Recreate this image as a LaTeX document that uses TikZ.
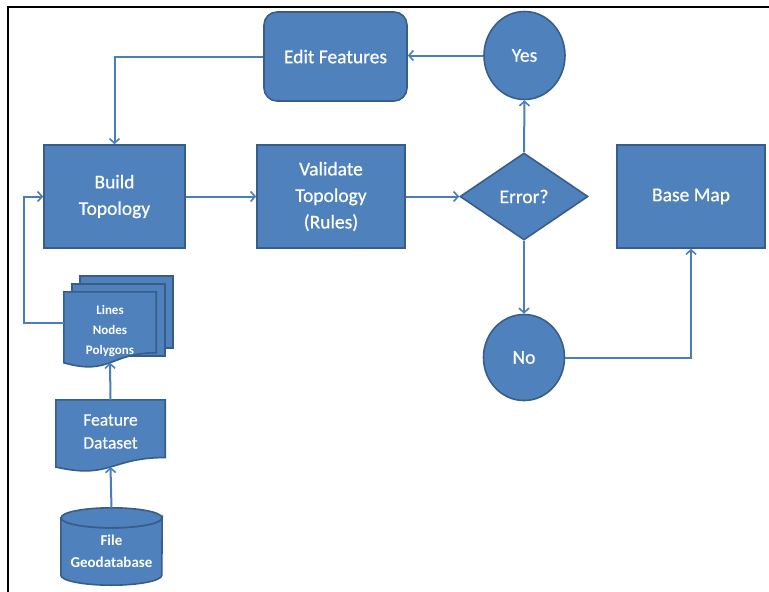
\documentclass[tikz,border=0pt]{standalone}
\usepackage{fontspec}
\setmainfont{Carlito}
\newfontfamily\labelfont[FakeBold=0.6]{Carlito}
\usetikzlibrary{arrows.meta,calc,shapes.geometric,backgrounds}

\definecolor{boxfill}{HTML}{4F81BD}
\definecolor{boxline}{HTML}{385D8A}
\definecolor{linkcol}{HTML}{4A7EBB}

% flowchart "document" outline: flat top, wavy bottom of nominal height #2
\newcommand\docoutline[2]{%
  \path[shapebody] (#1.north west) -- (#1.north east) -- ($(#1.north east)+(0,0.802*#2)$)
    .. controls ($(#1.north)+(0,0.802*#2)$) and ($(#1.north)+(0,1.107*#2)$)
    .. ($(#1.north west)+(0,0.934*#2)$) -- cycle;}

\tikzset{
  shapebody/.style={fill=boxfill, draw=boxline, line width=1.6pt},
  txt/.style={text=white, align=center, inner sep=0pt},
  mainfont/.style={font=\labelfont\fontsize{19.5}{26.5}\selectfont},
  procbox/.style={shapebody, txt, mainfont, rectangle},
  decision/.style={shapebody, txt, mainfont, diamond, minimum width=128pt, minimum height=87pt},
  answer/.style={shapebody, txt, mainfont, ellipse, minimum width=81pt, minimum height=88pt},
  conn/.style={draw=linkcol, line width=2pt, -{Straight Barb[length=4.5pt,width=10pt,line width=1.6pt]}},
  frameline/.style={draw=black, line width=1.8pt},
}

\begin{document}
\begin{tikzpicture}[x=1pt,y=-1pt]
\useasboundingbox (0,0) rectangle (769,592);

% page frame (top and left edges only)
\draw[frameline] (8,592) -- (8,7) -- (769,7);

% main flow
\node[procbox, rounded corners=13pt, minimum width=143pt, minimum height=89pt] (edit) at (335.5,56.5) {Edit Features};
\node[answer] (yes) at (524.5,55.5) {Yes};
\node[procbox, minimum width=141pt, minimum height=103pt] (build) at (114.5,196.5) {Build\\Topology};
\node[procbox, minimum width=148pt, minimum height=103pt] (validate) at (331,196.5) {Validate\\Topology\\(Rules)};
\node[decision] (err) at (524,196.5) {Error?};
\node[procbox, minimum width=148pt, minimum height=103pt] (base) at (691,196.5) {Base Map};
\node[answer, minimum height=86pt] (no) at (524,357.5) {No};

% data sources
\node[txt, font=\bfseries\fontsize{13}{20}\selectfont, minimum width=92pt, minimum height=78pt] (multi) at (110,331) {Lines\\Nodes\\Polygons};
\node[txt, font=\labelfont\fontsize{17.5}{23}\selectfont, minimum width=109pt, minimum height=63pt] (fds) at (110.5,431.5) {Feature\\Dataset};
\node[txt, font=\bfseries\fontsize{15}{22}\selectfont, minimum width=101pt, minimum height=67pt] (cyl) at (111.5,551.5) {File\\Geodatabase};

\begin{scope}[on background layer]
  % stacked pages behind the front document
  \path[shapebody] (80,276) rectangle (173,348);
  \path[shapebody] (72,284) rectangle (165,356);
  \docoutline{multi}{76}
  \docoutline{fds}{72}
  % database cylinder
  \path[shapebody] (cyl.north west) -- ($(cyl.south west)+(0,-10)$)
    arc[start angle=180, end angle=0, x radius=50.5, y radius=10]
    -- (cyl.north east) arc[start angle=0, end angle=180, x radius=50.5, y radius=10] -- cycle;
  \path[shapebody] (cyl.north) ellipse[x radius=50.5, y radius=10];
\end{scope}

% attachment points on the wavy / curved outlines
\coordinate (multiwave) at ($(multi.north)+(0,0.933*76)$);
\coordinate (multiside) at ($(multi.north west)+(0,31)$);
\coordinate (fdswave) at ($(fds.north)+(0,0.933*72)$);
\coordinate (cyltop) at ($(cyl.north)+(0,-10)$);
\coordinate (loopleft) at (24,0);

% connectors
\draw[conn] (yes.west) -- (yes.west -| edit.east);
\draw[conn] (edit.west) -| (build.north);
\draw[conn] (build.east) -- (validate.west);
\draw[conn] (validate.east) -- (err.west);
\draw[conn] (err.north) -- (yes.south);
\draw[conn] (err.south) -- (no.north);
\draw[conn] (no.east) -| (base.south);
\draw[conn] (multiside) -- (multiside -| loopleft) |- (build.west);
\draw[conn] (fds.north) -- (multiwave);
\draw[conn] (cyltop) -- (fdswave);
\end{tikzpicture}
\end{document}
